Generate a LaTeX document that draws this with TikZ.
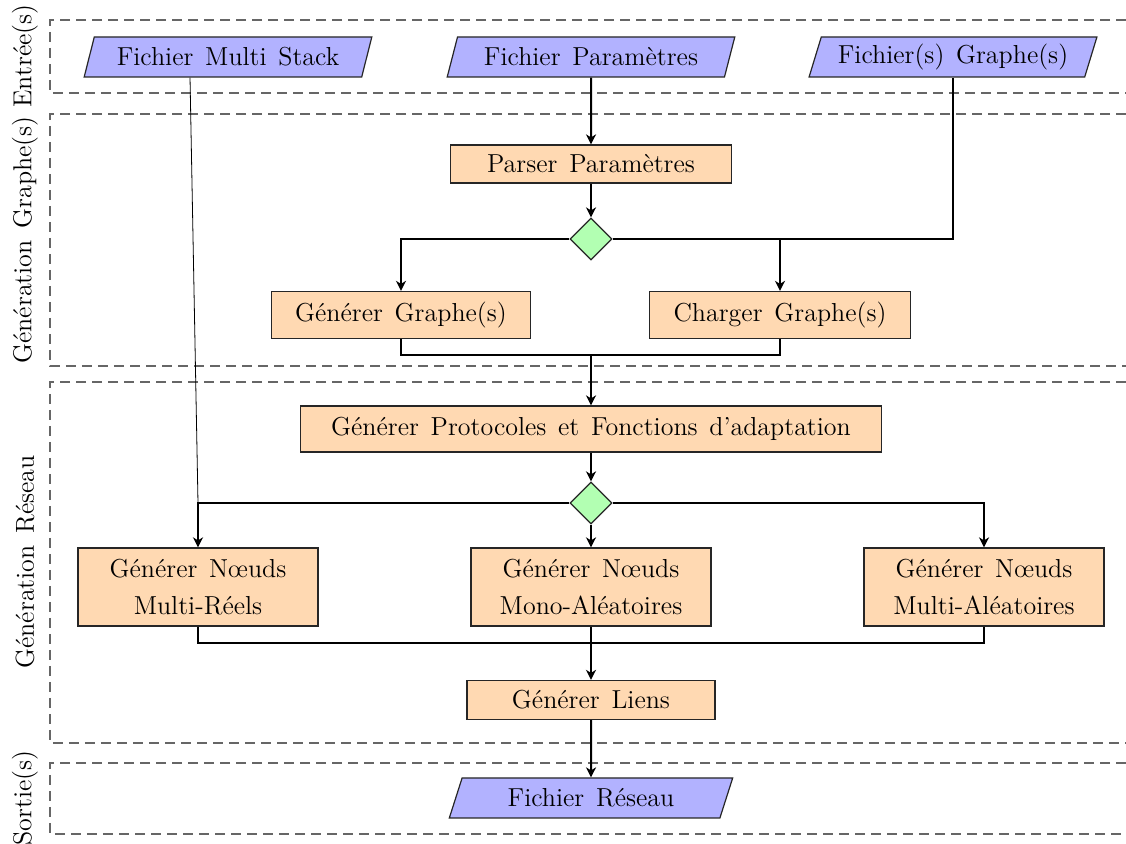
\documentclass[tikz,border=0pt]{standalone}
\usepackage{fontspec}
\usetikzlibrary{shapes.geometric,arrows.meta,calc}
\newcommand{\myNodeFont}{\fontsize{13}{18.5}\selectfont\spaceskip 0.45em plus 0.1em\relax}
\tikzset{
  every node/.style={font=\myNodeFont},
  io/.style={trapezium, trapezium left angle=72, trapezium right angle=108,
    trapezium stretches=true, draw=black!85, line width=0.6pt, fill=blue!30,
    minimum width=144pt, minimum height=20pt, inner sep=2pt},
  proc/.style={rectangle, draw=black!85, line width=0.6pt, fill=orange!30,
    align=center, inner sep=2pt},
  decision/.style={diamond, draw=black!85, line width=0.6pt, fill=green!30,
    minimum width=21pt, minimum height=21pt, inner sep=0pt},
  lane/.style={draw=black!60, dash pattern=on 5pt off 3pt, line width=0.6pt},
  lanelabel/.style={rotate=90},
  conn/.style={line width=1pt, draw=black},
  arr/.style={conn, -{Stealth[length=5pt,width=5pt,inset=1.5pt]}},
  thinconn/.style={line width=0.4pt, draw=black},
}
\begin{document}
\begin{tikzpicture}[x=0.5pt,y=-0.5pt]
\useasboundingbox (0,0) rectangle (1126,844);
% lanes
\draw[lane] (1126,20) -- (50,20) -- (50,93) -- (1126,93);
\draw[lane] (1126,114) -- (50,114) -- (50,366) -- (1126,366);
\draw[lane] (1126,382) -- (50,382) -- (50,743) -- (1126,743);
\draw[lane] (1126,763) -- (50,763) -- (50,834) -- (1126,834);
\node[lanelabel] (l1) at (25,56) {Entrée(s)};
\node[lanelabel] (l2) at (25,240) {Génération Graphe(s)};
\node[lanelabel] (l3) at (25,562) {Génération Réseau};
\node[lanelabel] (l4) at (25,798) {Sortie(s)};
% nodes
\node[io] (ms) at (228,57) {Fichier Multi Stack};
\node[io] (fp) at (591,57) {Fichier Paramètres};
\node[io] (fg) at (953,57) {Fichier(s) Graphe(s)};
\node[proc, minimum width=140.5pt, minimum height=19pt] (pp) at (591,164) {Parser Paramètres};
\node[decision] (d1) at (591,239) {};
\node[proc, minimum width=129.5pt, minimum height=23.5pt] (gg) at (401,315) {Générer Graphe(s)};
\node[proc, minimum width=130.5pt, minimum height=23.5pt] (cg) at (780,315) {Charger Graphe(s)};
\coordinate (m1) at (591,355);
\node[proc, minimum width=290.5pt, minimum height=23pt] (pf) at (591,429) {Générer Protocoles et Fonctions d’adaptation};
\node[decision] (d2) at (591,503) {};
\node[proc, minimum width=120pt, minimum height=39pt] (nr) at (198,587) {Générer Nœuds\\Multi-Réels};
\node[proc, minimum width=120pt, minimum height=39pt] (nm) at (591,587) {Générer Nœuds\\Mono-Aléatoires};
\node[proc, minimum width=120pt, minimum height=39pt] (na) at (984,587) {Générer Nœuds\\Multi-Aléatoires};
\coordinate (m2) at (591,643);
\node[proc, minimum width=124pt, minimum height=19.5pt] (gl) at (591,700) {Générer Liens};
\node[io, minimum width=142pt] (fr) at (591,798) {Fichier Réseau};
% connectors
\draw[arr] (fp.south) -- (pp.north);
\draw[arr] (pp.south) -- (d1.north);
\draw[arr] (d1.west) -| (gg.north);
\draw[arr] (d1.east) -| (cg.north);
\draw[conn] (fg.south) |- (d1.east -| cg.north);
\draw[conn] (gg.south) |- (m1) -| (cg.south);
\draw[arr] (m1) -- (pf.north);
\draw[arr] (pf.south) -- (d2.north);
\draw[arr] (d2.west) -| (nr.north);
\draw[arr] (d2.south) -- (nm.north);
\draw[arr] (d2.east) -| (na.north);
\draw[conn] (nr.south) |- (m2) -| (na.south);
\draw[conn] (nm.south) -- (m2);
\draw[arr] (m2) -- (gl.north);
\draw[arr] (gl.south) -- (fr.north);
\coordinate (msx) at ($(ms.south)+(-38,0)$);
\draw[thinconn] (msx) -- (d2.west -| nr.north);
\end{tikzpicture}
\end{document}
